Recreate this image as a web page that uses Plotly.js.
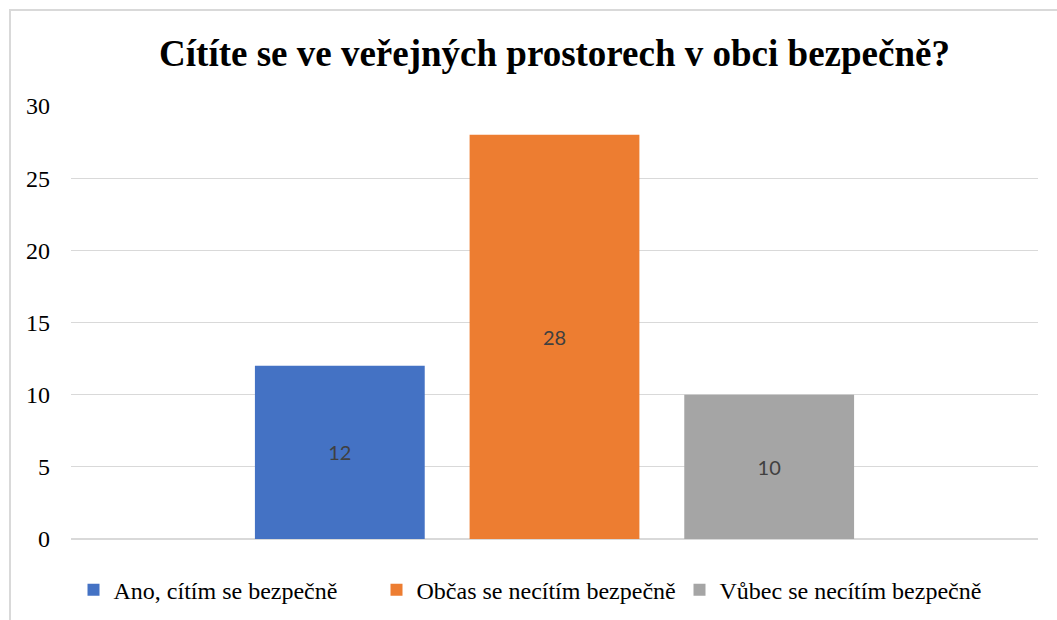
<!DOCTYPE html>
<html>
<head>
<meta charset="utf-8">
<script src="https://cdn.plot.ly/plotly-3.0.1.min.js"></script>
<style>
  html, body { margin: 0; padding: 0; background: #fff; }
  #wrap { position: relative; width: 1057px; height: 620px; }
  #chart { width: 1057px; height: 620px; }
  #frame { position: absolute; left: 9px; top: 9px; right: -5px; bottom: -5px;
           border-left: 2px solid #d9d9d9; border-top: 2px solid #d9d9d9; pointer-events: none; }
</style>
</head>
<body>
<div id="wrap">
  <div id="chart"></div>
  <div id="frame"></div>
</div>
<script>
const titleText = "Cítíte se ve veřejných prostorech v obci bezpečně?";
const category = [""];
const seriesNames = ["Ano, cítím se bezpečně", "Občas se necítím bezpečně", "Vůbec se necítím bezpečně"];
const seriesValues = [12, 28, 10];
const seriesColors = ["#4472c4", "#ed7d31", "#a5a5a5"];
const yTicks = [0, 5, 10, 15, 20, 25, 30];

const traces = seriesNames.map((name, i) => ({
  type: "bar",
  name: name,
  x: category,
  y: [seriesValues[i]],
  marker: { color: seriesColors[i], line: { width: 0 } },
  text: [String(seriesValues[i])],
  textposition: "inside",
  insidetextanchor: "middle",
  textangle: 0,
  textfont: { family: "Lato, 'Open Sans', sans-serif", size: 20, color: "#404040" },
  hoverinfo: "skip"
}));

const layout = {
  width: 1057,
  height: 620,
  margin: { l: 71, r: 19, t: 106, b: 81, autoexpand: false },
  paper_bgcolor: "#ffffff",
  plot_bgcolor: "#ffffff",
  title: {
    text: "<b>" + titleText + "</b>",
    font: { family: "'Liberation Serif', 'Times New Roman', serif", size: 37, color: "#000000" },
    x: 0.5, xref: "paper", xanchor: "center",
    y: 67, yref: "container", yanchor: "middle"
  },
  barmode: "group",
  bargap: 0.334,
  bargroupgap: 0.209,
  showlegend: true,
  legend: {
    orientation: "h",
    x: 0.4726, xref: "paper", xanchor: "center",
    y: -0.118, yanchor: "middle",
    font: { family: "'Liberation Serif', 'Times New Roman', serif", size: 24, color: "#000000" },
    itemwidth: 30,
    entrywidth: 258,
    traceorder: "normal"
  },
  xaxis: {
    showticklabels: false,
    showgrid: false,
    zeroline: false,
    showline: false,
    ticks: ""
  },
  yaxis: {
    range: [0, 30],
    tickvals: yTicks,
    ticktext: yTicks.map(String),
    showgrid: true,
    gridcolor: "#d9d9d9",
    gridwidth: 1.3,
    zeroline: true,
    zerolinecolor: "#d9d9d9",
    zerolinewidth: 1.3,
    showline: false,
    ticks: "",
    ticklabelstandoff: 20,
    tickfont: { family: "'Liberation Serif', 'Times New Roman', serif", size: 24, color: "#000000" }
  }
};

Plotly.newPlot("chart", traces, layout, { displayModeBar: false, staticPlot: true });
</script>
</body>
</html>
